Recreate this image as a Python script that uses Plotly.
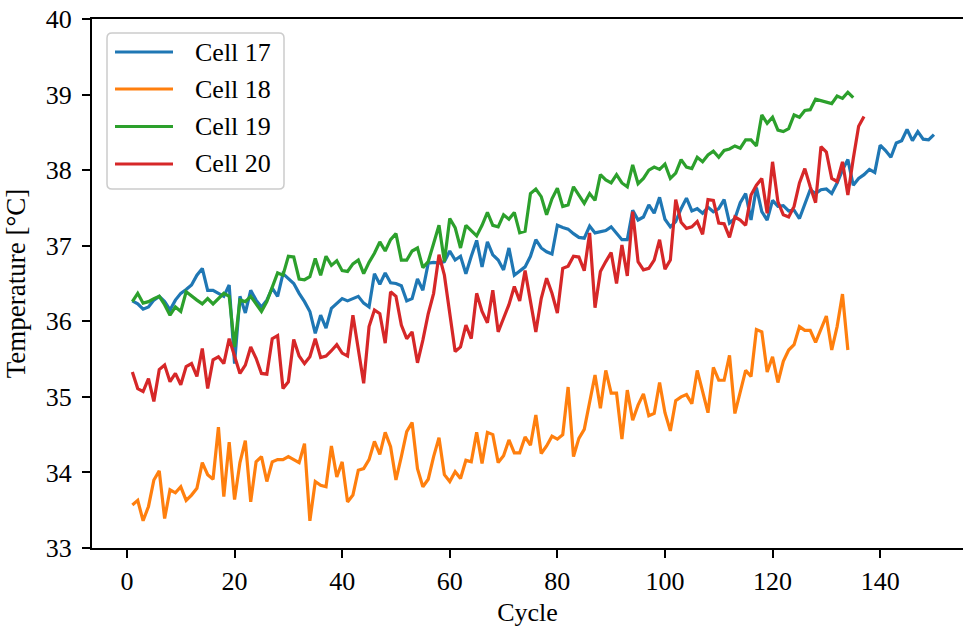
import plotly.graph_objects as go

# Measured surface temperature per cycle for four cells
cell17 = [36.27, 36.23, 36.16, 36.19, 36.28, 36.33, 36.26, 36.15, 36.28, 36.37,
          36.42, 36.48, 36.61, 36.70, 36.41, 36.41, 36.37, 36.33, 36.48, 35.44,
          36.33, 36.11, 36.41, 36.28, 36.19, 36.28, 36.44, 36.33, 36.63, 36.56,
          36.50, 36.37, 36.26, 36.13, 35.84, 36.08, 35.91, 36.17, 36.24, 36.30,
          36.27, 36.30, 36.33, 36.24, 36.19, 36.63, 36.49, 36.64, 36.51, 36.50,
          36.47, 36.27, 36.30, 36.56, 36.41, 36.77, 36.78, 36.77, 36.79, 36.93,
          36.81, 36.86, 36.63, 36.86, 37.07, 36.72, 37.05, 36.88, 36.81, 36.68,
          36.97, 36.61, 36.66, 36.72, 36.86, 37.08, 36.97, 36.92, 36.89, 37.27,
          37.24, 37.22, 37.16, 37.11, 37.10, 37.26, 37.17, 37.19, 37.20, 37.25,
          37.17, 37.08, 37.08, 37.47, 37.34, 37.38, 37.54, 37.43, 37.64, 37.35,
          37.25, 37.32, 37.49, 37.63, 37.46, 37.49, 37.43, 37.51, 37.45, 37.49,
          37.61, 37.30, 37.36, 37.57, 37.69, 37.34, 37.77, 37.45, 37.34, 37.60,
          37.52, 37.53, 37.46, 37.47, 37.36, 37.54, 37.74, 37.69, 37.74, 37.75,
          37.69, 37.83, 38.00, 38.14, 37.80, 37.89, 37.94, 38.01, 37.97, 38.33,
          38.26, 38.17, 38.36, 38.39, 38.54, 38.39, 38.51, 38.41, 38.40, 38.47]

cell18 = [33.57, 33.63, 33.36, 33.55, 33.90, 34.02, 33.39, 33.77, 33.73, 33.81,
          33.63, 33.70, 33.79, 34.13, 33.97, 33.91, 34.60, 33.68, 34.40, 33.64,
          34.13, 34.42, 33.61, 34.14, 34.21, 33.88, 34.14, 34.17, 34.17, 34.21,
          34.17, 34.13, 34.38, 33.36, 33.88, 33.83, 33.81, 34.35, 33.94, 34.14,
          33.61, 33.70, 34.03, 34.05, 34.17, 34.41, 34.24, 34.53, 34.34, 33.90,
          34.21, 34.54, 34.66, 34.05, 33.81, 33.91, 34.21, 34.46, 33.97, 33.88,
          34.01, 33.92, 34.16, 34.14, 34.53, 34.12, 34.53, 34.50, 34.13, 34.22,
          34.43, 34.26, 34.26, 34.47, 34.36, 34.76, 34.25, 34.35, 34.48, 34.44,
          34.50, 35.13, 34.21, 34.45, 34.57, 34.92, 35.29, 34.85, 35.35, 35.05,
          35.05, 34.44, 35.09, 34.69, 34.89, 35.04, 34.75, 34.78, 35.19, 34.79,
          34.55, 34.95, 35.00, 35.03, 34.91, 35.35, 35.07, 34.79, 35.39, 35.22,
          35.22, 35.55, 34.78, 35.06, 35.35, 35.27, 35.89, 35.86, 35.33, 35.53,
          35.19, 35.47, 35.62, 35.69, 35.93, 35.88, 35.88, 35.72, 35.91, 36.07,
          35.62, 35.93, 36.36, 35.62]

cell19 = [36.26, 36.37, 36.24, 36.26, 36.30, 36.33, 36.22, 36.08, 36.19, 36.13,
          36.39, 36.33, 36.28, 36.23, 36.30, 36.23, 36.30, 36.37, 36.33, 35.66,
          36.28, 36.26, 36.33, 36.23, 36.13, 36.26, 36.46, 36.64, 36.61, 36.86,
          36.85, 36.56, 36.55, 36.59, 36.83, 36.61, 36.86, 36.74, 36.80, 36.67,
          36.66, 36.76, 36.81, 36.63, 36.78, 36.90, 37.05, 36.93, 37.08, 37.16,
          36.81, 36.81, 36.93, 36.97, 36.71, 36.79, 37.03, 37.27, 36.79, 37.36,
          37.24, 36.97, 37.27, 37.20, 37.13, 37.27, 37.44, 37.27, 37.25, 37.41,
          37.35, 37.44, 37.17, 37.19, 37.69, 37.75, 37.65, 37.41, 37.62, 37.76,
          37.52, 37.54, 37.78, 37.67, 37.56, 37.69, 37.60, 37.94, 37.87, 37.83,
          37.94, 37.83, 37.78, 38.07, 37.82, 37.89, 38.00, 38.04, 38.01, 38.08,
          37.89, 37.96, 38.14, 38.04, 38.02, 38.17, 38.11, 38.20, 38.25, 38.17,
          38.26, 38.28, 38.32, 38.29, 38.40, 38.40, 38.32, 38.73, 38.62, 38.70,
          38.53, 38.51, 38.55, 38.73, 38.70, 38.79, 38.80, 38.94, 38.92, 38.89,
          38.88, 38.98, 38.95, 39.03, 38.96]

cell20 = [35.33, 35.11, 35.07, 35.24, 34.94, 35.36, 35.42, 35.20, 35.31, 35.16,
          35.40, 35.44, 35.27, 35.64, 35.11, 35.49, 35.53, 35.44, 35.77, 35.53,
          35.31, 35.42, 35.66, 35.51, 35.31, 35.30, 35.77, 35.81, 35.11, 35.20,
          35.76, 35.54, 35.44, 35.53, 35.77, 35.52, 35.54, 35.61, 35.69, 35.58,
          35.54, 36.08, 35.66, 35.18, 35.93, 36.15, 36.10, 35.71, 36.39, 36.33,
          35.95, 35.77, 35.86, 35.45, 35.75, 36.10, 36.37, 36.88, 36.61, 36.10,
          35.60, 35.66, 35.95, 35.77, 36.37, 36.13, 35.98, 36.41, 35.86, 36.04,
          36.22, 36.46, 36.27, 36.67, 36.26, 35.86, 36.30, 36.57, 36.37, 36.11,
          36.70, 36.73, 36.86, 36.85, 36.67, 37.17, 36.18, 36.66, 36.79, 36.91,
          36.50, 37.01, 36.60, 37.45, 36.79, 36.68, 36.70, 36.81, 37.08, 36.69,
          36.81, 37.61, 37.31, 37.23, 37.25, 37.32, 37.15, 37.61, 37.60, 37.30,
          37.29, 37.11, 37.38, 37.34, 37.27, 37.67, 37.80, 37.89, 37.43, 38.11,
          37.58, 37.41, 37.38, 37.52, 37.83, 38.02, 37.78, 37.57, 38.31, 38.24,
          37.89, 37.85, 38.11, 37.67, 38.15, 38.58, 38.71]

series_names = ["Cell 17", "Cell 18", "Cell 19", "Cell 20"]
series_values = [cell17, cell18, cell19, cell20]
colors = ["#1f77b4", "#ff7f0e", "#2ca02c", "#d62728"]

x_ticks = [0, 20, 40, 60, 80, 100, 120, 140]
y_ticks = [33, 34, 35, 36, 37, 38, 39, 40]

FONT = "Liberation Serif"
FS = 26
W, H = 963, 627
ML, MR, MT, MB = 92, 0, 19, 79
PW, PH = W - ML - MR, H - MT - MB

fig = go.Figure()
for name, vals, col in zip(series_names, series_values, colors):
    fig.add_trace(go.Scatter(
        x=list(range(1, len(vals) + 1)), y=vals, name=name, mode="lines",
        line=dict(color=col, width=3.2), showlegend=False,
    ))


def px_x(p):
    return (p - ML) / PW


def px_y(p):
    return (H - MB - p) / PH


# legend frame (rounded box) drawn in paper coordinates
bx0, bx1, by0, by1, r = 107, 284, 33, 189, 5
X0, X1, Y0, Y1 = px_x(bx0), px_x(bx1), px_y(by0), px_y(by1)
rx, ry = r / PW, r / PH
path = (f"M {X0 + rx},{Y0} L {X1 - rx},{Y0} Q {X1},{Y0} {X1},{Y0 - ry} "
        f"L {X1},{Y1 + ry} Q {X1},{Y1} {X1 - rx},{Y1} "
        f"L {X0 + rx},{Y1} Q {X0},{Y1} {X0},{Y1 + ry} "
        f"L {X0},{Y0 - ry} Q {X0},{Y0} {X0 + rx},{Y0} Z")
shapes = [dict(type="path", path=path, xref="paper", yref="paper",
               line=dict(color="#cccccc", width=1.5), fillcolor="rgba(255,255,255,0.8)")]
annotations = []
row_y = [52, 89, 126.5, 164]
for name, col, ry_px in zip(series_names, colors, row_y):
    yy = px_y(ry_px)
    shapes.append(dict(type="line", xref="paper", yref="paper",
                       x0=px_x(115), x1=px_x(173), y0=yy, y1=yy,
                       line=dict(color=col, width=3.2)))
    annotations.append(dict(text=name, xref="paper", yref="paper", x=px_x(193), y=yy,
                            xanchor="left", yanchor="middle", showarrow=False,
                            font=dict(family=FONT, size=FS, color="black")))

axis_common = dict(
    showgrid=False, zeroline=False, showline=True, linecolor="black", linewidth=2,
    ticks="outside", ticklen=8, tickwidth=2, tickcolor="black",
    tickfont=dict(family=FONT, size=FS, color="black"),
)

fig.update_layout(
    width=W, height=H,
    margin=dict(l=ML, r=MR, t=MT, b=MB, pad=0),
    paper_bgcolor="white", plot_bgcolor="white",
    showlegend=False,
    font=dict(family=FONT, size=FS, color="black"),
    shapes=shapes, annotations=annotations,
    xaxis=dict(range=[-6.5, 155.4], tickvals=x_ticks, mirror=True,
               title=dict(text="Cycle", font=dict(family=FONT, size=FS), standoff=13),
               ticklabelstandoff=1, **axis_common),
    yaxis=dict(range=[33, 40], tickvals=y_ticks,
               title=dict(text="Temperature [°C]", font=dict(family=FONT, size=27), standoff=12),
               ticklabelstandoff=5, **axis_common),
)

fig.write_html("out.html")
